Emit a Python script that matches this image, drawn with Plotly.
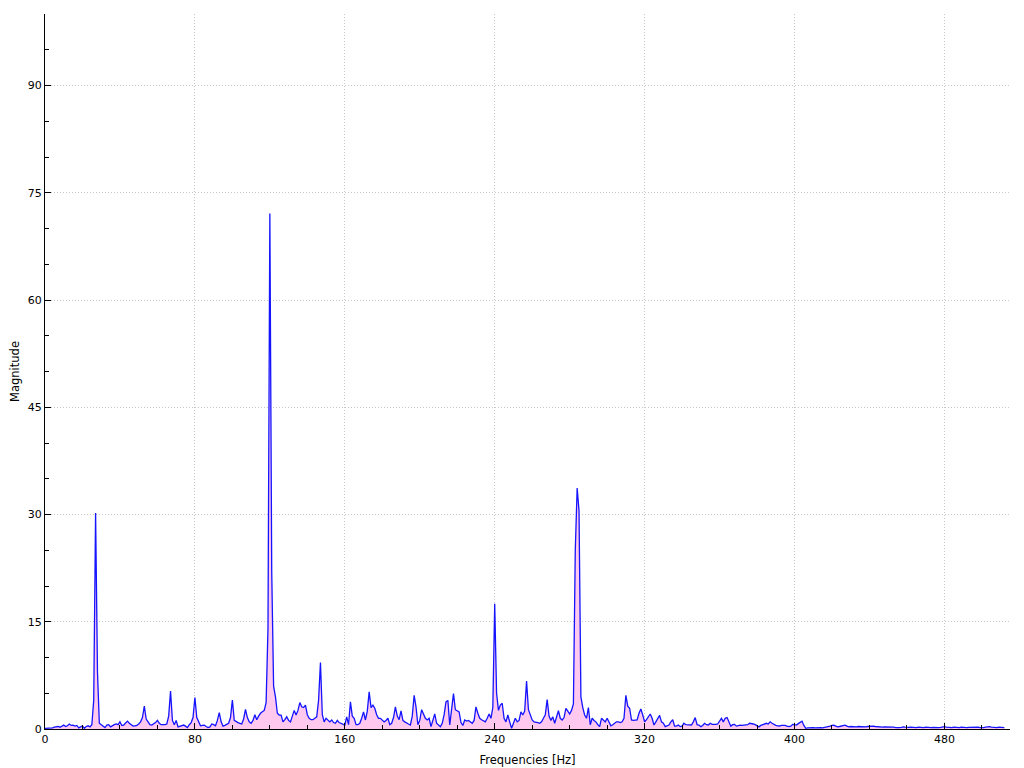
import plotly.graph_objects as go

# Frequency bins (Hz)
freqs = list(range(0, 513))

# Magnitude values, 10 per row
magnitude = [
    0.1, 0.1, 0.05, 0.1, 0.15, 0.25, 0.3, 0.35, 0.25, 0.4,          # 0
    0.55, 0.35, 0.45, 0.7, 0.5, 0.55, 0.4, 0.5, 0.15, 0.3,          # 10
    0.4, 0.1, 0.35, 0.45, 0.3, 0.6, 4.0, 30.2, 8.0, 0.8,            # 20
    0.6, 0.3, 0.2, 0.55, 0.6, 0.3, 0.5, 0.6, 0.7, 0.6,              # 30
    1.0, 0.5, 0.55, 0.8, 1.1, 0.8, 0.6, 0.4, 0.45, 0.5,             # 40
    0.7, 1.0, 1.6, 3.2, 1.4, 0.9, 0.6, 0.55, 0.7, 0.9,              # 50
    1.2, 0.8, 0.6, 0.55, 0.6, 0.7, 1.8, 5.3, 1.2, 0.6,              # 60
    1.2, 0.3, 0.4, 0.5, 0.55, 0.4, 0.2, 0.6, 0.9, 1.6,              # 70
    4.4, 1.6, 1.0, 0.45, 0.5, 0.55, 0.35, 0.2, 0.3, 0.7,            # 80
    0.6, 0.45, 1.2, 2.3, 1.0, 0.4, 0.5, 0.6, 0.8, 1.6,              # 90
    4.05, 1.2, 1.0, 0.9, 0.8, 0.7, 1.4, 2.75, 1.6, 1.0,             # 100
    0.8, 1.2, 2.0, 1.3, 1.8, 2.2, 2.4, 2.6, 3.7, 14.0,              # 110
    72.1, 22.0, 6.0, 4.5, 2.2, 1.95, 1.95, 1.0, 1.3, 1.7,           # 120
    1.2, 1.0, 1.8, 2.6, 1.96, 2.6, 3.7, 3.1, 3.0, 3.35,             # 130
    2.0, 1.5, 1.3, 1.3, 1.5, 1.7, 4.0, 9.3, 2.0, 1.0,               # 140
    1.5, 1.2, 1.0, 1.26, 0.9, 0.8, 1.2, 0.9, 0.8, 0.6,              # 150
    0.55, 1.7, 0.6, 3.8, 1.8, 1.5, 0.6, 0.6, 0.8, 1.5,              # 160
    2.4, 1.26, 2.5, 5.2, 3.0, 3.35, 2.9, 2.0, 1.5, 1.5,             # 170
    1.26, 1.0, 1.2, 1.5, 0.6, 0.8, 1.6, 3.1, 1.8, 1.3,              # 180
    2.55, 1.2, 1.0, 0.8, 0.7, 0.56, 1.8, 4.7, 3.1, 0.6,             # 190
    1.2, 2.7, 1.96, 1.5, 1.26, 1.5, 0.33, 1.2, 2.1, 0.8,            # 200
    0.6, 0.33, 0.8, 2.0, 3.8, 4.0, 0.56, 3.0, 4.95, 2.7,            # 210
    2.5, 2.4, 0.9, 0.5, 1.26, 1.1, 1.2, 1.0, 0.8, 1.2,              # 220
    3.1, 2.2, 1.5, 1.3, 1.2, 1.0, 1.5, 2.1, 1.5, 3.0,               # 230
    17.5, 5.0, 2.6, 3.35, 3.6, 1.5, 1.0, 1.96, 1.0, 0.1,            # 240
    0.8, 1.5, 1.0, 1.2, 2.4, 1.96, 2.5, 6.7, 2.7, 2.0,              # 250
    1.26, 1.0, 1.0, 0.9, 0.8, 1.0, 1.5, 2.0, 4.1, 1.8,              # 260
    1.2, 1.7, 0.8, 1.6, 2.55, 1.5, 1.26, 1.6, 2.9, 2.5,             # 270
    2.1, 2.6, 3.5, 25.0, 33.7, 30.5, 4.5, 3.0, 1.96, 1.5,           # 280
    3.0, 0.6, 1.5, 1.2, 1.0, 0.6, 0.33, 1.5, 1.3, 1.0,              # 290
    1.5, 1.0, 0.45, 0.6, 0.8, 1.0, 1.0, 0.9, 1.0, 1.5,              # 300
    4.7, 3.2, 2.9, 1.26, 1.2, 1.2, 1.26, 2.2, 2.8, 1.96,            # 310
    1.0, 1.3, 1.7, 2.1, 1.5, 0.56, 1.0, 1.4, 1.9, 1.0,              # 320
    0.8, 0.33, 0.5, 0.56, 1.0, 1.3, 0.4, 0.4, 0.56, 0.33,           # 330
    0.4, 0.8, 0.6, 0.56, 0.5, 0.56, 1.0, 1.6, 0.6, 0.56,            # 340
    0.33, 0.5, 0.8, 0.6, 0.56, 0.8, 0.65, 0.6, 0.65, 0.7,           # 350
    1.2, 1.5, 1.0, 1.5, 1.6, 1.0, 0.4, 0.6, 0.65, 0.4,              # 360
    0.5, 0.55, 0.5, 0.55, 0.5, 0.6, 0.8, 0.8, 0.7, 0.6,             # 370
    0.5, 0.3, 0.5, 0.6, 0.8, 0.8, 0.7, 1.0, 0.8, 0.6,               # 380
    0.5, 0.45, 0.42, 0.5, 0.55, 0.5, 0.4, 0.33, 0.4, 0.65,          # 390
    0.6, 0.55, 0.75, 0.9, 1.1, 0.5, 0.1, 0.15, 0.2, 0.15,           # 400
    0.2, 0.15, 0.2, 0.25, 0.2, 0.15, 0.2, 0.2, 0.3, 0.4,            # 410
    0.5, 0.55, 0.4, 0.3, 0.35, 0.45, 0.5, 0.55, 0.4, 0.3,           # 420
    0.35, 0.3, 0.25, 0.3, 0.35, 0.33, 0.3, 0.25, 0.3, 0.35,         # 430
    0.4, 0.42, 0.4, 0.35, 0.3, 0.25, 0.2, 0.25, 0.3, 0.3,           # 440
    0.35, 0.3, 0.33, 0.25, 0.2, 0.25, 0.2, 0.23, 0.3, 0.25,         # 450
    0.2, 0.22, 0.25, 0.2, 0.15, 0.2, 0.25, 0.2, 0.15, 0.2,          # 460
    0.25, 0.2, 0.15, 0.2, 0.23, 0.2, 0.15, 0.2, 0.23, 0.3,          # 470
    0.33, 0.25, 0.2, 0.15, 0.2, 0.25, 0.2, 0.15, 0.2, 0.25,         # 480
    0.2, 0.15, 0.2, 0.23, 0.25, 0.2, 0.23, 0.3, 0.25, 0.2,          # 490
    0.15, 0.2, 0.25, 0.3, 0.33, 0.25, 0.2, 0.15, 0.2, 0.25,         # 500
    0.2, 0.19, 0.2,                                                 # 510
]

x_title = "Frequencies [Hz]"
y_title = "Magnitude"

fig = go.Figure()
fig.add_trace(go.Scatter(
    x=freqs, y=magnitude, mode="lines",
    line=dict(color="#1414ff", width=1.3),
    fill="tozeroy", fillcolor="#ffc8ee",
    hoverinfo="x+y", showlegend=False,
))

font_family = "DejaVu Sans"
grid_style = dict(showgrid=True, gridcolor="#c8c8c8", griddash="1px,2px", gridwidth=1)
# The page body adds an 8px offset, so the figure is 1016x760 with margins compensated.
fig.update_layout(
    width=1016, height=760,
    margin=dict(l=37, r=14, t=6, b=39),
    paper_bgcolor="white", plot_bgcolor="white",
    font=dict(family=font_family, size=11, color="black"),
    xaxis=dict(
        range=[0, 515], tickmode="linear", tick0=0, dtick=80,
        ticks="inside", ticklen=6, tickcolor="black", tickwidth=1,
        minor=dict(tick0=0, dtick=20, ticks="inside", ticklen=4,
                   tickcolor="black", showgrid=False),
        showline=True, linecolor="black", linewidth=1,
        zeroline=False, mirror=False, automargin=False,
        title=dict(text=x_title, standoff=10, font=dict(size=11.5)),
        tickfont=dict(size=11),
        **grid_style,
    ),
    yaxis=dict(
        range=[0, 100], tickmode="linear", tick0=0, dtick=15,
        ticks="inside", ticklen=6, tickcolor="black", tickwidth=1,
        minor=dict(tick0=0, dtick=5, ticks="inside", ticklen=4,
                   tickcolor="black", showgrid=False),
        showline=True, linecolor="black", linewidth=1,
        zeroline=False, mirror=False, automargin=False,
        title=dict(text=y_title, standoff=10, font=dict(size=11.5)),
        tickfont=dict(size=11),
        **grid_style,
    ),
)

fig.write_html("out.html")
